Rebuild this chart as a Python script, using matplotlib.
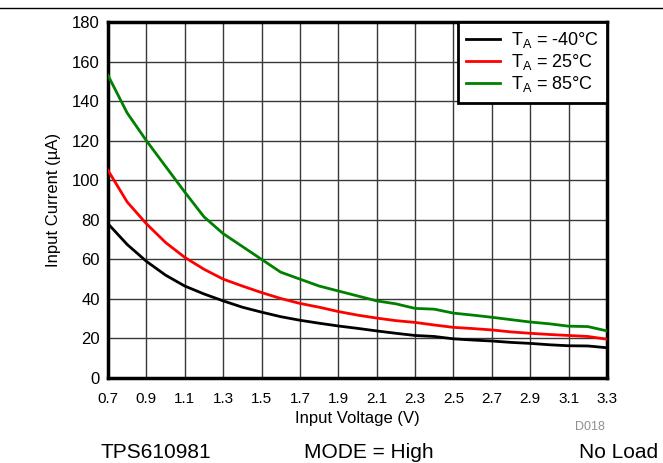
import matplotlib
matplotlib.use("Agg")
import matplotlib.pyplot as plt
from matplotlib.lines import Line2D

plt.rcParams['font.family'] = ['Liberation Sans', 'DejaVu Sans']
plt.rcParams['mathtext.fontset'] = 'custom'
plt.rcParams['mathtext.rm'] = 'Liberation Sans'

voltage = [0.7, 0.8, 0.9, 1.0, 1.1, 1.2, 1.3, 1.4, 1.5, 1.6, 1.7, 1.8, 1.9, 2.0,
           2.1, 2.2, 2.3, 2.4, 2.5, 2.6, 2.7, 2.8, 2.9, 3.0, 3.1, 3.2, 3.3]
current_m40 = [78, 67.5, 59, 52, 46.5, 42.5, 39, 35.8, 33.3, 31, 29.2, 27.7, 26.3, 25.1,
               23.8, 22.6, 21.5, 21, 19.8, 19.2, 18.7, 18, 17.5, 16.8, 16.3, 16.2, 15.3]
current_25 = [105, 89, 78, 68.5, 61, 55, 50, 46.5, 43.2, 40.2, 37.7, 35.8, 33.6, 31.8,
              30.3, 29, 28.1, 26.8, 25.6, 25, 24.3, 23.3, 22.6, 22, 21.5, 21, 19.6]
current_85 = [153, 134, 120, 107, 94, 81.5, 73, 66.5, 60, 53.5, 50, 46.5, 44, 41.5,
              39, 37.5, 35.2, 34.8, 32.8, 31.8, 30.7, 29.5, 28.3, 27.4, 26.2, 26, 23.8]
series_labels = [r'T$_\mathrm{A}$ = -40°C', r'T$_\mathrm{A}$ = 25°C', r'T$_\mathrm{A}$ = 85°C']
series_colors = ['black', '#ff0000', '#008000']
x_ticks = [0.7, 0.9, 1.1, 1.3, 1.5, 1.7, 1.9, 2.1, 2.3, 2.5, 2.7, 2.9, 3.1, 3.3]
y_ticks = [0, 20, 40, 60, 80, 100, 120, 140, 160, 180]

fig = plt.figure(figsize=(6.63, 4.63), dpi=100)
ax = fig.add_axes([108/663, 85/463, 499/663, 356/463])

for vals, lab, col in zip([current_m40, current_25, current_85], series_labels, series_colors):
    ax.plot(voltage, vals, color=col, lw=2, label=lab, zorder=3)

ax.set_xlim(0.7, 3.3)
ax.set_ylim(0, 180)
ax.set_xticks(x_ticks)
ax.set_xticklabels([f'{v:.1f}' for v in x_ticks])
ax.set_yticks(y_ticks)
ax.tick_params(which='both', length=0)
ax.tick_params(axis='x', labelsize=11, pad=10)
ax.tick_params(axis='y', labelsize=12, pad=6)
ax.grid(which='major', color='#383838', lw=1)
for s in ax.spines.values():
    s.set_linewidth(2.5)
ax.set_xlabel('Input Voltage (V)', fontsize=12, labelpad=4)
ax.set_ylabel('Input Current (µA)', fontsize=12, labelpad=8)

leg = ax.legend(loc='upper right', fontsize=13, frameon=True, fancybox=False,
                framealpha=1, edgecolor='black', handlelength=1.9,
                borderaxespad=0, labelspacing=0.12, handletextpad=0.6,
                borderpad=0.45)
leg.get_frame().set_linewidth(2)

fig.add_artist(Line2D([0, 1], [1 - 8/463, 1 - 8/463], color='black', lw=1))
fig.text(605/663, 1 - 427/463, 'D018', fontsize=9, color='#909090', ha='right', va='center')
fig.text(156/663, 1 - 452/463, 'TPS610981', fontsize=15, ha='center', va='center')
fig.text(369/663, 1 - 452/463, 'MODE = High', fontsize=15, ha='center', va='center')
fig.text(658/663, 1 - 452/463, 'No Load', fontsize=15, ha='right', va='center')

fig.savefig('out.png', dpi=100)
